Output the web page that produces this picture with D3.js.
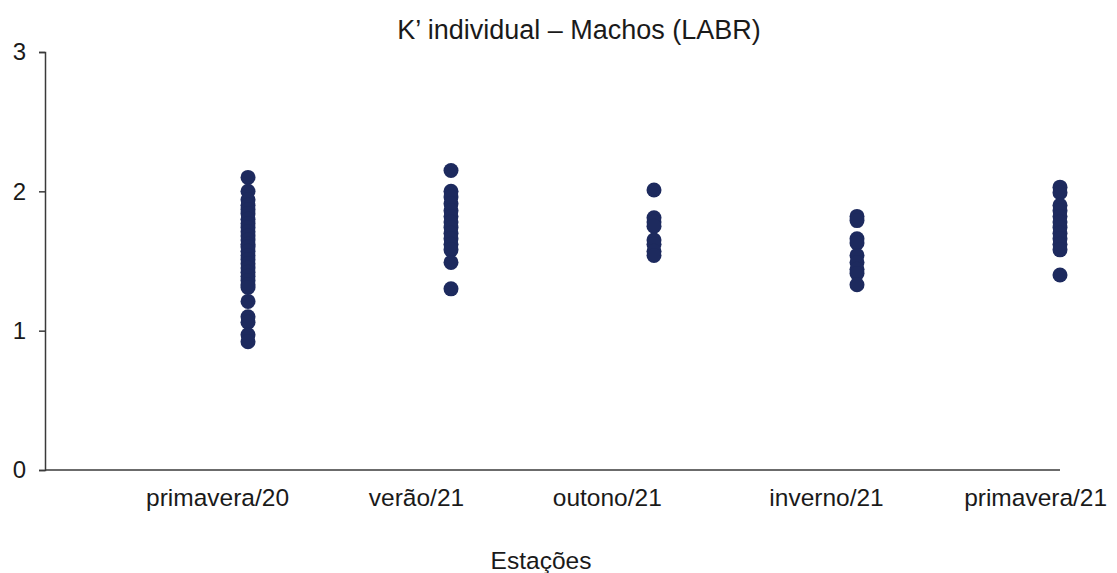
<!DOCTYPE html>
<html>
<head>
<meta charset="utf-8">
<script src="https://cdn.jsdelivr.net/npm/d3@7"></script>
<style>
  html, body { margin: 0; padding: 0; background: #fff; }
  svg { display: block; font-family: "Liberation Sans", Arial, sans-serif; }
</style>
</head>
<body>
<svg id="chart" width="1117" height="573"></svg>
<script>
// Seasons sampled (category positions 1..5 on the x scale)
const seasons = ["primavera/20", "verão/21", "outono/21", "inverno/21", "primavera/21"];
// Where each season label sits along the x axis (category units)
const labelAt = [0.85, 1.83, 2.77, 3.85, 4.88];

// Individual condition factor K' for each male, per season
const kPrimavera20 = [2.10, 2.00, 1.94, 1.90, 1.87, 1.84, 1.80, 1.77, 1.74, 1.71, 1.68, 1.65,
                      1.62, 1.60, 1.57, 1.54, 1.51, 1.48, 1.45, 1.42, 1.39, 1.36, 1.33, 1.31,
                      1.21, 1.10, 1.06, 0.97, 0.92];
const kVerao21     = [2.15, 2.00, 1.96, 1.91, 1.86, 1.82, 1.78, 1.74, 1.70, 1.66, 1.62, 1.58,
                      1.49, 1.30];
const kOutono21    = [2.01, 1.81, 1.78, 1.75, 1.65, 1.62, 1.57, 1.54];
const kInverno21   = [1.82, 1.79, 1.66, 1.63, 1.54, 1.49, 1.44, 1.41, 1.33];
const kPrimavera21 = [2.03, 1.99, 1.90, 1.86, 1.82, 1.78, 1.74, 1.70, 1.66, 1.62, 1.58, 1.40];

const yTicks = [0, 1, 2, 3];

const seriesBySeason = [kPrimavera20, kVerao21, kOutono21, kInverno21, kPrimavera21];
const points = seriesBySeason.flatMap((vals, i) => vals.map(v => ({ c: i + 1, v })));

const svg = d3.select("#chart");
const margin = { left: 45, right: 57, top: 52, bottom: 103 };
const W = 1117, H = 573;

const x = d3.scaleLinear().domain([0, 5]).range([margin.left, W - margin.right]);
const y = d3.scaleLinear().domain([0, 3]).range([H - margin.bottom, margin.top]);

const ink = "#1a1a1a";
const axisColor = "#3a3a3a";

// Y axis with ticks pointing outward
const yAxis = svg.append("g")
  .attr("transform", `translate(${x(0)},0)`)
  .call(d3.axisLeft(y).tickValues(yTicks).tickFormat(d3.format("d")).tickSize(6).tickPadding(13));
yAxis.select(".domain").attr("stroke", axisColor).attr("stroke-width", 1.5);
yAxis.selectAll(".tick line").attr("stroke", axisColor).attr("stroke-width", 1.5);
yAxis.selectAll(".tick text").attr("font-size", 24).attr("fill", ink)
  .attr("font-family", "'Liberation Sans', Arial, sans-serif");

// X axis baseline
svg.append("line")
  .attr("x1", x(0)).attr("x2", x(5))
  .attr("y1", y(0)).attr("y2", y(0))
  .attr("stroke", axisColor).attr("stroke-width", 1.5);

// Season labels
svg.append("g").selectAll("text")
  .data(seasons)
  .join("text")
  .attr("x", (d, i) => x(labelAt[i]))
  .attr("y", y(0) + 36)
  .attr("text-anchor", "middle")
  .attr("font-size", 24.5)
  .attr("fill", ink)
  .text(d => d);

// Points
svg.append("g").selectAll("circle")
  .data(points)
  .join("circle")
  .attr("cx", d => x(d.c))
  .attr("cy", d => y(d.v))
  .attr("r", 7.5)
  .attr("fill", "#1d2a5e");

// Title
svg.append("text")
  .attr("x", 579).attr("y", 39)
  .attr("text-anchor", "middle")
  .attr("font-size", 27)
  .attr("fill", ink)
  .text("K’ individual – Machos (LABR)");

// X axis title
svg.append("text")
  .attr("x", 541).attr("y", 569)
  .attr("text-anchor", "middle")
  .attr("font-size", 24.5)
  .attr("fill", ink)
  .text("Estações");
</script>
</body>
</html>
